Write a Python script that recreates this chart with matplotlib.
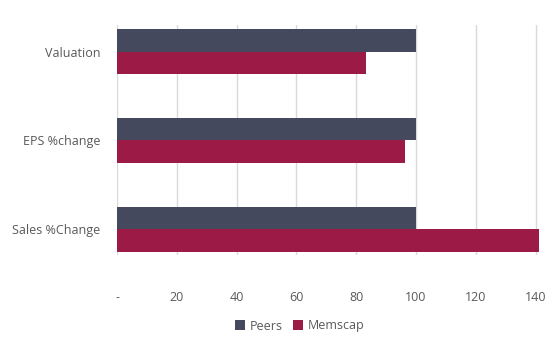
import matplotlib.pyplot as plt
import numpy as np

categories = ["Valuation", "EPS %change", "Sales %Change"]
peers = [100, 100, 100]
memscap = [83.3, 96.3, 141.3]
xticks = [0, 20, 40, 60, 80, 100, 120, 140]
xtick_labels = ["-", "20", "40", "60", "80", "100", "120", "140"]

plt.rcParams['font.family'] = ['Open Sans', 'DejaVu Sans']

fig = plt.figure(figsize=(5.5, 3.38), dpi=100)
ax = fig.add_axes([117 / 550, 83 / 338, 432 / 550, 230 / 338])

y = np.arange(len(categories))
h = 0.253
ax.barh(y - h / 2, peers, height=h, color='#44495E', label='Peers', zorder=2)
ax.barh(y + h / 2, memscap, height=h, color='#9B1B46', label='Memscap', zorder=2)

ax.set_xlim(0, 144.5)
ax.set_ylim(2.29, -0.3)
ax.set_yticks(y)
ax.set_yticklabels(categories)
ax.set_xticks(xticks)
ax.set_xticklabels(xtick_labels)
ax.grid(axis='x', color='#D9D9D9', linewidth=1, zorder=0)
for s in ax.spines.values():
    s.set_visible(False)
ax.tick_params(axis='both', length=0, labelsize=9, labelcolor='#595959')
ax.tick_params(axis='x', pad=26)
ax.tick_params(axis='y', pad=12)

leg = fig.legend(loc='center', bbox_to_anchor=(300 / 550, 1 - 326 / 338), ncol=2,
                 frameon=False, fontsize=9, handlelength=0.8, handleheight=0.8,
                 handletextpad=0.4, columnspacing=0.8)
for t in leg.get_texts():
    t.set_color('#595959')

fig.savefig("out.png", dpi=100)
